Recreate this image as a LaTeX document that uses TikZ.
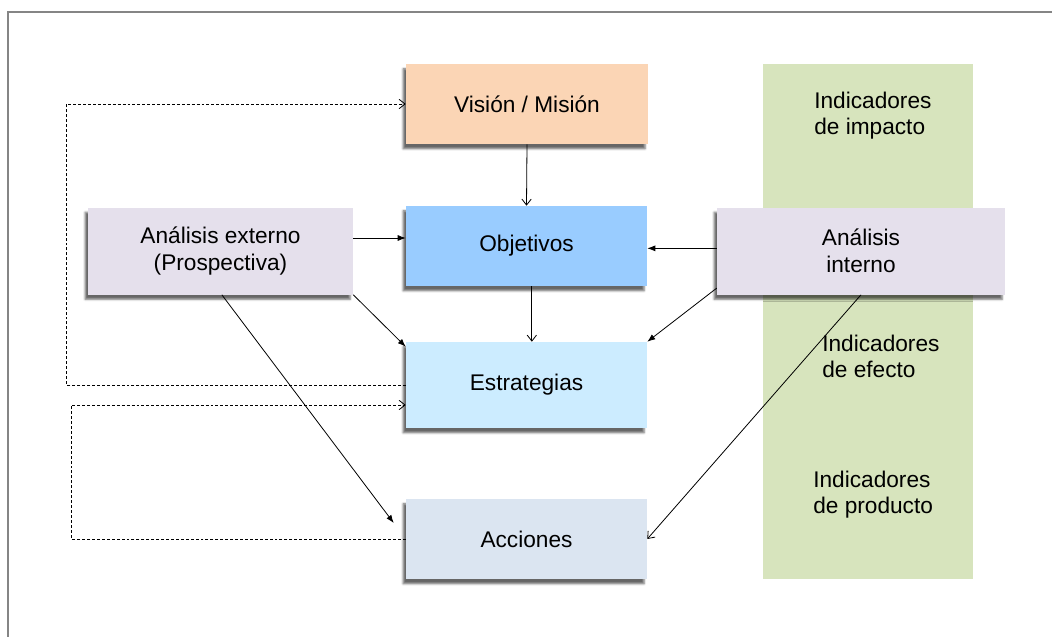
\documentclass[tikz,border=0pt]{standalone}
\usepackage{fontspec}
\setmainfont{Liberation Sans}
\usepackage{xcolor}
\usetikzlibrary{arrows.meta,shadows.blur}
\definecolor{vispeach}{HTML}{FBD5B5}
\definecolor{objblue}{HTML}{99CCFF}
\definecolor{estblue}{HTML}{CCECFF}
\definecolor{accgray}{HTML}{DBE5F1}
\definecolor{anlilac}{HTML}{E5E0EC}
\definecolor{indgreen}{HTML}{D7E4BD}
\definecolor{framegray}{HTML}{858585}
\tikzset{
	box/.style={
			draw=none, fill=#1, align=center, inner sep=0pt,
			font=\fontsize{17}{20}\selectfont,
			blur shadow={shadow xshift=-2.2pt, shadow yshift=-3.6pt,
					shadow blur radius=1.5pt, shadow blur steps=4, shadow opacity=60}
		},
	indtext/.style={anchor=west, align=left, inner sep=0pt,
			font=\fontsize{17}{19.5}\selectfont},
	fullarrow/.style={-{Latex[length=6pt,width=4.5pt]}, line width=0.6pt},
	openarrow/.style={-{Straight Barb[length=4.5pt,width=7pt]}, line width=0.6pt},
	dashloop/.style={openarrow, dash pattern=on 2.2pt off 1.5pt}
}
\begin{document}
\begin{tikzpicture}[x=0.75pt,y=-0.75pt]
			\useasboundingbox (0,0) rectangle (1052,636);

			% outer frame
			\draw[framegray, line width=2pt] (8,640) -- (8,12) -- (1056,12);

			% column of indicators
			\node[fill=indgreen, minimum width=157.5pt, minimum height=386.25pt, inner sep=0pt] (ind) at (868,321.5) {};
			\node[indtext] (impacto) at (814,116) {Indicadores\\de impacto};
			\node[indtext] (efecto) at (822,356) {Indicadores\\de efecto};
			\node[indtext] (producto) at (813,495) {Indicadores\\de producto};

			% boxes
			\node[box=vispeach, minimum width=181.5pt, minimum height=60pt] (vision) at (527,104) {Visión / Misión};
			\node[box=objblue, minimum width=180.75pt, minimum height=60pt] (obj) at (526.5,246) {Objetivos};
			\node[box=estblue, minimum width=180.75pt, minimum height=64.5pt] (estr) at (526.5,385) {Estrategias};
			\node[box=accgray, minimum width=180.75pt, minimum height=60pt] (acc) at (526.5,539) {Acciones};
			\node[box=anlilac, minimum width=198.75pt, minimum height=65.25pt] (ext) at (220.5,251) {Análisis externo\\(Prospectiva)};
			\node[box=anlilac, minimum width=216pt, minimum height=65.25pt] (int) at (861,251) {Análisis\\interno};

			% solid connectors
			\draw[openarrow] (vision.south) -- (obj.north);
			\draw[openarrow] ([xshift=4pt]obj.south) -- ([xshift=4pt]estr.north);
			\draw[fullarrow] ([yshift=9.75pt]ext.east) -- ([yshift=9.75pt]ext.east -| obj.west);
			\draw[fullarrow] ([yshift=2pt]int.west) -- ([yshift=2pt]int.west -| obj.east);
			\draw[fullarrow] (ext.south east) -- ([yshift=-3.75pt]estr.north west);
			\draw[fullarrow] ([yshift=5pt]int.south west) -- (estr.north east);
			\draw[fullarrow] ([xshift=1pt]ext.south) -- ([xshift=-9pt,yshift=12pt]acc.west);
			\draw[openarrow] (int.south) -- (acc.east);

			% feedback loops
			\draw[dashloop] (estr.west) -- ++(-339,0) |- (vision.west);
			\draw[dashloop] (acc.west) -- ++(-334,0) |- ([yshift=-15pt]estr.west);

		\end{tikzpicture}
\end{document}
